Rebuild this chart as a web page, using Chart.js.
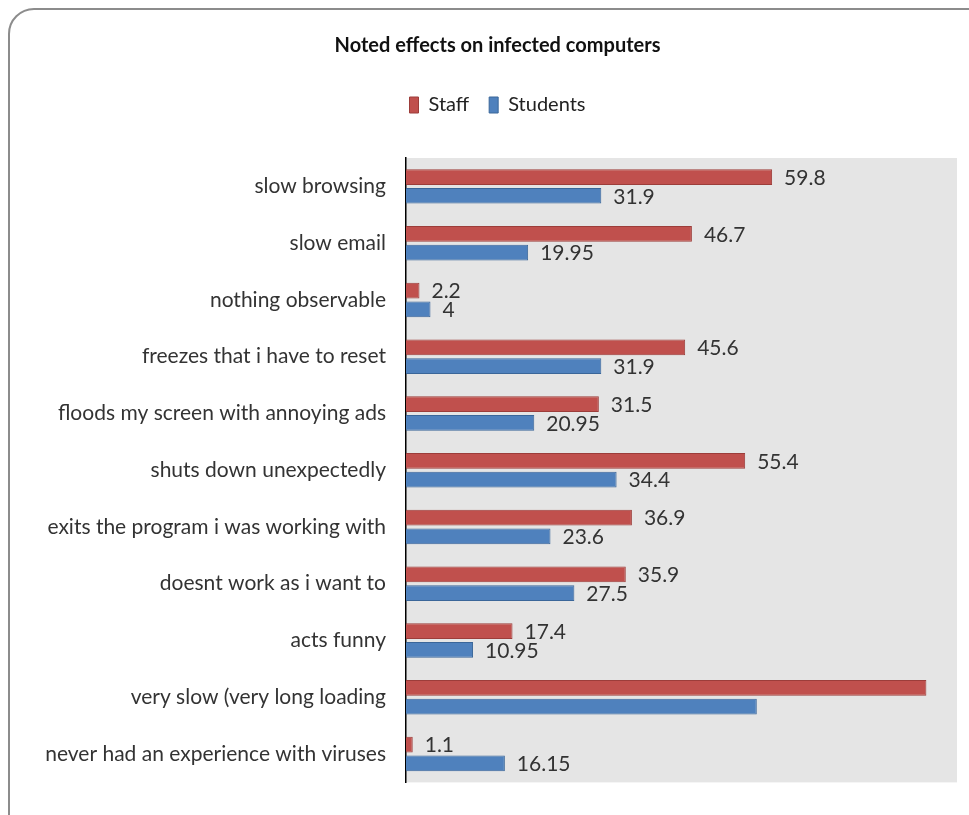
<!DOCTYPE html>
<html>
<head>
<meta charset="utf-8">
<script src="https://cdn.jsdelivr.net/npm/chart.js@4.4.1/dist/chart.umd.min.js"></script>
<style>
  html, body { margin: 0; padding: 0; background: #ffffff; overflow: hidden; }
  #frame {
    position: absolute; left: 8px; top: 8px; width: 990px; height: 840px;
    border: 2px solid #8c8c8c; border-radius: 26px; box-sizing: border-box;
  }
  #c { position: absolute; left: 0; top: 0; }
</style>
</head>
<body>
<div id="frame"></div>
<canvas id="c" width="969" height="815"></canvas>
<script>
const categories = [
  'slow browsing',
  'slow email',
  'nothing observable',
  'freezes that i have to reset',
  'floods my screen with annoying ads',
  'shuts down unexpectedly',
  'exits the program i was working with',
  'doesnt work as i want to',
  'acts funny',
  'very slow (very long loading',
  'never had an experience with viruses'
];
const staffValues = [59.8, 46.7, 2.2, 45.6, 31.5, 55.4, 36.9, 35.9, 17.4, 85, 1.1];
const studentValues = [31.9, 19.95, 4, 31.9, 20.95, 34.4, 23.6, 27.5, 10.95, 57.3, 16.15];
const unlabelledCategories = ['very slow (very long loading'];
const xMin = 0;
const xMax = 90;

const FONT = 'Lato, "Open Sans", "DejaVu Sans", sans-serif';

const plotBackground = {
  id: 'plotBackground',
  beforeDraw(chart) {
    const {ctx, chartArea: a} = chart;
    ctx.save();
    ctx.fillStyle = '#e5e5e5';
    ctx.fillRect(a.left, a.top, a.right - a.left, a.bottom - a.top);
    ctx.restore();
  }
};

const valueLabels = {
  id: 'valueLabels',
  afterDatasetsDraw(chart) {
    const ctx = chart.ctx;
    ctx.save();
    ctx.font = '21px ' + FONT;
    ctx.fillStyle = '#333333';
    ctx.textAlign = 'left';
    ctx.textBaseline = 'middle';
    chart.data.datasets.forEach((ds, di) => {
      const meta = chart.getDatasetMeta(di);
      meta.data.forEach((bar, i) => {
        if (unlabelledCategories.includes(chart.data.labels[i])) return;
        ctx.fillText(String(ds.data[i]), bar.x + 12, bar.y + 1);
      });
    });
    ctx.restore();
  }
};

new Chart(document.getElementById('c'), {
  type: 'bar',
  data: {
    labels: categories,
    datasets: [
      {
        label: 'Staff',
        data: staffValues,
        backgroundColor: '#c0504d',
        borderColor: '#9c3d3a',
        borderWidth: 1,
        categoryPercentage: 0.66,
        barPercentage: 0.84
      },
      {
        label: 'Students',
        data: studentValues,
        backgroundColor: '#4f81bd',
        borderColor: '#3a6699',
        borderWidth: 1,
        categoryPercentage: 0.66,
        barPercentage: 0.84
      }
    ]
  },
  options: {
    indexAxis: 'y',
    responsive: false,
    animation: false,
    layout: { padding: { top: 20, left: 38, right: 12, bottom: 24 } },
    plugins: {
      title: {
        display: true,
        text: 'Noted effects on infected computers',
        color: '#111111',
        font: { family: FONT, size: 20, weight: 'bold' },
        padding: { top: 14, bottom: 17 }
      },
      legend: {
        display: true,
        position: 'top',
        labels: {
          boxWidth: 9,
          boxHeight: 16,
          padding: 20,
          color: '#222222',
          font: { family: FONT, size: 20 }
        }
      },
      tooltip: { enabled: false }
    },
    scales: {
      x: {
        type: 'linear',
        position: 'top',
        min: xMin,
        max: xMax,
        display: true,
        ticks: { display: false },
        grid: { display: false, drawTicks: false },
        border: { display: false },
        afterFit(scale) { scale.height = 33; }
      },
      y: {
        type: 'category',
        grid: { display: false, drawTicks: false },
        border: { display: true, color: '#000000', width: 1.5 },
        ticks: {
          padding: 20,
          color: '#333333',
          font: { family: FONT, size: 21 }
        },
        afterFit(scale) { scale.width = 368; }
      }
    }
  },
  plugins: [plotBackground, valueLabels]
});
</script>
</body>
</html>
